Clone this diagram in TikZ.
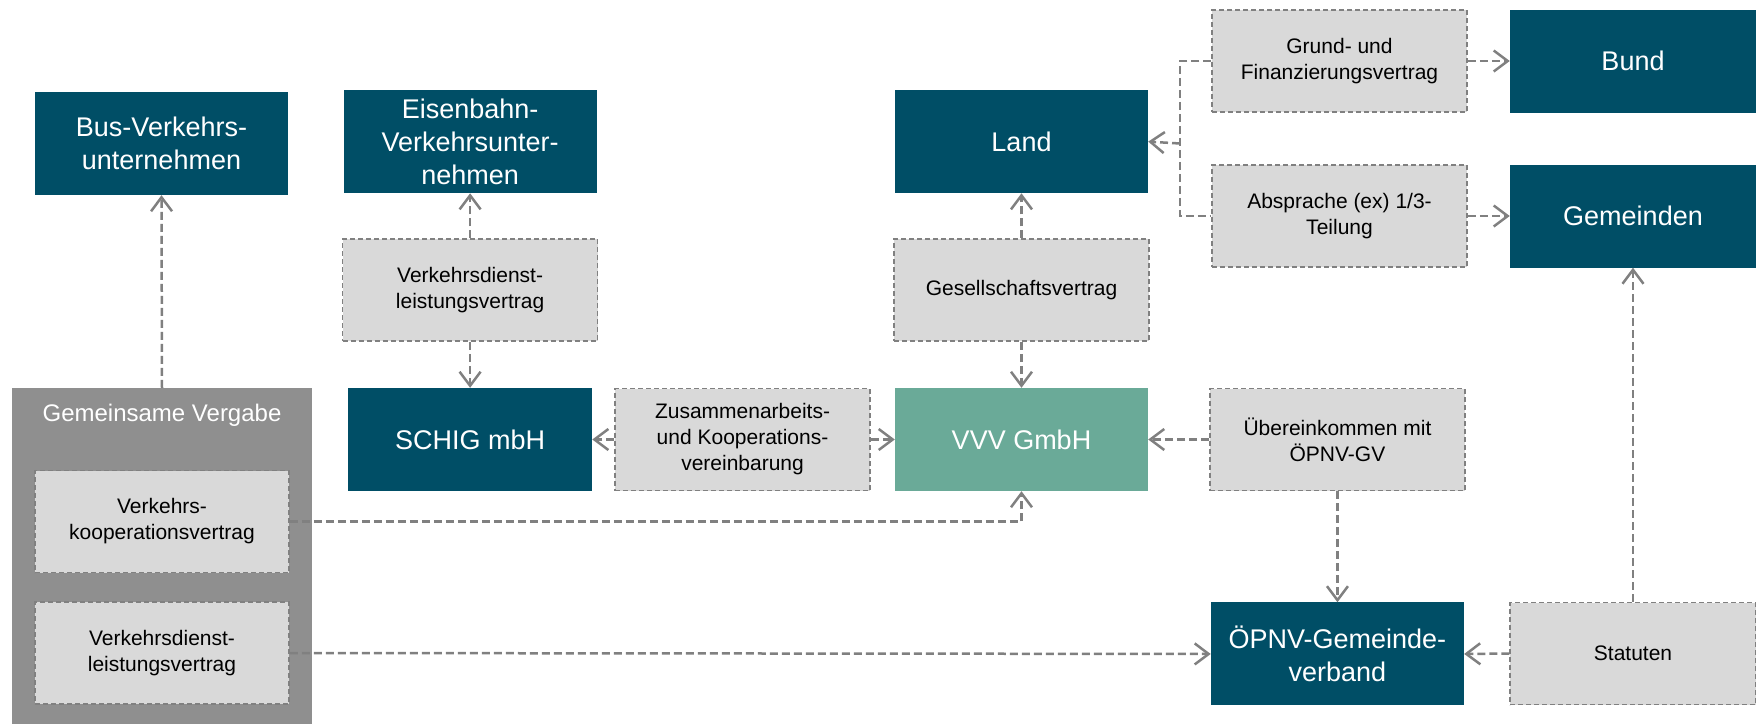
\documentclass[tikz,border=0pt]{standalone}
\usepackage{fontspec}
\setmainfont{Liberation Sans}
\usetikzlibrary{positioning,arrows.meta}

\definecolor{petrol}{RGB}{0,78,102}
\definecolor{vvvgreen}{RGB}{106,170,152}
\definecolor{contractgray}{RGB}{217,217,217}
\definecolor{linegray}{RGB}{128,128,128}
\definecolor{groupgray}{RGB}{143,143,143}

\begin{document}
\begin{tikzpicture}[
    x=1pt, y=1pt,
    party/.style={fill=petrol,text=white,minimum width=253pt,minimum height=103pt,inner sep=0pt,align=center,font=\fontsize{27}{33}\selectfont},
    contract/.style={draw=linegray,dash pattern=on 5pt off 3pt,line width=1.5pt,fill=contractgray,minimum width=255pt,minimum height=102pt,inner sep=0pt,align=center,font=\fontsize{21}{26}\selectfont},
    link/.style={draw=linegray,line width=2.5pt,dash pattern=on 8pt off 4pt},
    arrow/.style={link,-{Straight Barb[length=14pt,width=21pt]}}
]
    \useasboundingbox (0,0) rectangle (1756,-724);

    % VVV in the middle
    \node[party,fill=vvvgreen] (vvv) at (1021.5,-439.5) {VVV GmbH};
    \node[contract] (zus) [left=24pt of vvv] {Zusammenarbeits-\\und Kooperations-\\vereinbarung};
    \node[party,minimum width=244pt] (schig) [left=22pt of zus] {SCHIG mbH};
    \node[contract] (gesell) [above=46pt of vvv] {Gesellschaftsvertrag};
    \node[party] (land) [above=45pt of gesell] {Land};
    \node[contract] (vdl) [above=46pt of schig] {Verkehrsdienst-\\leistungsvertrag};
    \node[party] (eisenbahn) [above=45pt of vdl] {Eisenbahn-\\Verkehrsunter-\\nehmen};
    \node[contract] (ueber) [right=61pt of vvv] {Übereinkommen mit\\ÖPNV-GV};
    \node[party] (oepnv) [below=111pt of ueber] {ÖPNV-Gemeinde-\\verband};

    % Bund und Gemeinden
    \node[contract] (grund) at (1339.5,-61) {Grund- und\\Finanzierungsvertrag};
    \node[contract] (absprache) at (1339.5,-216) {Absprache (ex) 1/3-\\Teilung};
    \node[party,minimum width=246pt] (bund) at (1633,-61) {Bund};
    \node[party,minimum width=246pt] (gemeinden) at (1633,-216) {Gemeinden};
    \node[contract,minimum width=246pt] (statuten) at (1633,-653.5) {Statuten};

    % Gemeinsame Vergabe
    \node[party] (bus) at (161.5,-143.5) {Bus-Verkehrs-\\unternehmen};
    \node[fill=groupgray,minimum width=300pt,minimum height=336pt,inner sep=0pt] (vergabe) at (162,-556) {};
    \node[text=white,font=\fontsize{24}{28}\selectfont] (vergabetitel) at (162,-415) {Gemeinsame Vergabe};
    \node[contract,minimum width=254pt] (vkv) at (162,-521.5) {Verkehrs-\\kooperationsvertrag};
    \node[contract,minimum width=254pt] (vdv) at (162,-653) {Verkehrsdienst-\\leistungsvertrag};

    % Connections
    \draw[arrow] (vergabe.north) -- (bus.south);
    \draw[arrow] (vdl.north) -- (eisenbahn.south);
    \draw[arrow] (vdl.south) -- (schig.north);
    \draw[arrow] (zus.west) -- (schig.east);
    \draw[arrow] (zus.east) -- (vvv.west);
    \draw[arrow] (gesell.north) -- (land.south);
    \draw[arrow] (gesell.south) -- (vvv.north);
    \draw[arrow] (ueber.west) -- (vvv.east);
    \draw[arrow] (ueber.south) -- (oepnv.north);
    \draw[arrow] (grund.east) -- (bund.west);
    \draw[arrow] (absprache.east) -- (gemeinden.west);
    \coordinate (fork) at (1180,-143.5);
    \draw[link] (grund.west) -| (fork) |- (absprache.west);
    \draw[arrow] (fork) -- (land.east);
    \draw[arrow] (statuten.west) -- (oepnv.east);
    \draw[arrow] (statuten.north) -- (gemeinden.south);
    \draw[arrow] (vkv.east) -| (vvv.south);
    \draw[arrow] (vdv.east) -- (oepnv.west);
\end{tikzpicture}
\end{document}
